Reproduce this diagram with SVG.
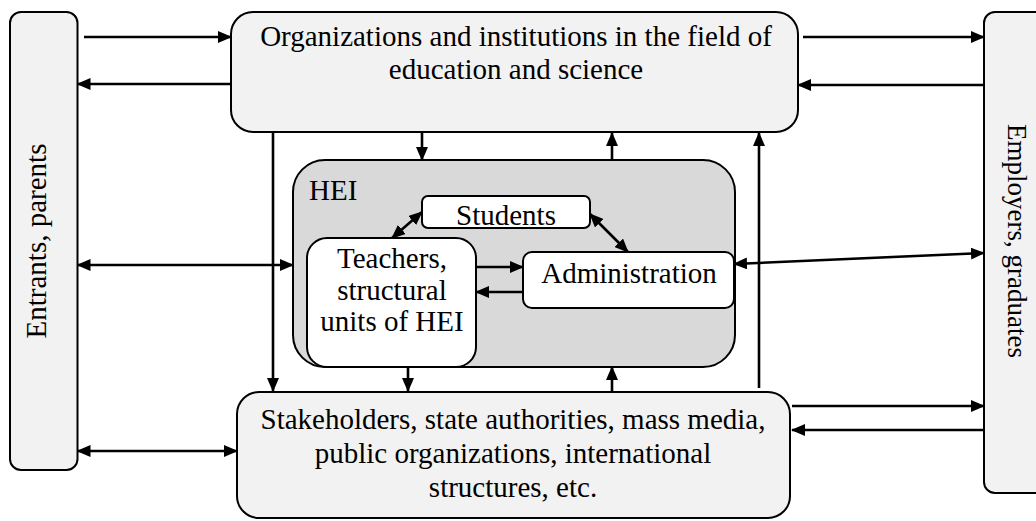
<svg xmlns="http://www.w3.org/2000/svg" width="1036" height="521" viewBox="0 0 1036 521">
<style>
.box{fill:#f2f2f2;stroke:#000;stroke-width:2}
.hei{fill:#d9d9d9;stroke:#000;stroke-width:2}
.inner{fill:#fff;stroke:#000;stroke-width:2}
.t{font-size:29px;fill:#000}
.c{text-anchor:middle}
.con line{stroke:#000;stroke-width:2.6;fill:none}
.e{marker-end:url(#ah)}
.s{marker-start:url(#ah)}
</style>
<defs>
<marker id="ah" viewBox="0 0 14 12" refX="13" refY="6" markerWidth="14" markerHeight="12" markerUnits="userSpaceOnUse" orient="auto-start-reverse">
<path d="M0,0 L14,6 L0,12 z" fill="#000"/>
</marker>
</defs>
<rect width="1036" height="521" fill="#fff"/>

<g font-family="'Liberation Serif', 'Times New Roman', 'DejaVu Serif', serif">
<g id="entrants">
<rect class="box" x="10" y="12" width="67.5" height="458" rx="11"/>
<text class="t c" transform="translate(46,241) rotate(-90)">Entrants, parents</text>
</g>

<g id="employers">
<rect class="box" x="984" y="12" width="80" height="481" rx="11"/>
<text class="t c" style="font-size:27px" transform="translate(1008,241) rotate(90)">Employers, graduates</text>
</g>

<g id="organizations">
<rect class="box" x="231" y="12" width="567" height="120" rx="22"/>
<text class="t c" x="516" y="46">Organizations and institutions in the field of</text>
<text class="t c" x="516" y="79">education and science</text>
</g>

<g id="stakeholders">
<rect class="box" x="237" y="392" width="553" height="126" rx="22"/>
<text class="t c" x="513" y="429">Stakeholders, state authorities, mass media,</text>
<text class="t c" x="513" y="463">public organizations, international</text>
<text class="t c" x="513" y="497">structures, etc.</text>
</g>

<g id="hei">
<rect class="hei" x="293" y="160" width="442" height="207" rx="32"/>
<text class="t" x="309" y="200">HEI</text>
</g>

<g id="students">
<rect class="inner" x="422" y="196" width="168" height="32" rx="6"/>
<text class="t c" x="506" y="225">Students</text>
</g>

<g id="teachers">
<rect class="inner" x="307" y="238" width="169" height="129" rx="20"/>
<text class="t c" x="392" y="268">Teachers,</text>
<text class="t c" x="392" y="300">structural</text>
<text class="t c" x="392" y="331">units of HEI</text>
</g>

<g id="administration">
<rect class="inner" x="523" y="252" width="211" height="56" rx="9"/>
<text class="t c" x="629" y="283">Administration</text>
</g>
</g>

<g id="connectors" class="con">
<line class="e" x1="84" y1="37" x2="231" y2="37"/>
<line class="e" x1="231" y1="84" x2="77.5" y2="84"/>
<line class="e" x1="803" y1="37" x2="984" y2="37"/>
<line class="e" x1="984" y1="85" x2="798" y2="85"/>
<line class="s e" x1="77.5" y1="265" x2="293" y2="265"/>
<line class="s e" x1="734" y1="264" x2="984" y2="253"/>
<line class="s e" x1="77.5" y1="451" x2="237" y2="451"/>
<line class="e" x1="792" y1="406" x2="984" y2="406"/>
<line class="e" x1="984" y1="430" x2="792" y2="430"/>
<line class="e" x1="273" y1="132" x2="273" y2="391"/>
<line class="e" x1="759" y1="388" x2="759" y2="133"/>
<line class="e" x1="422" y1="132" x2="422" y2="160"/>
<line class="e" x1="612" y1="160" x2="612" y2="133"/>
<line class="e" x1="408" y1="367" x2="408" y2="391"/>
<line class="e" x1="612" y1="391" x2="612" y2="367"/>
<line class="e" x1="476" y1="267" x2="523" y2="267"/>
<line class="e" x1="523" y1="292" x2="476" y2="292"/>
<line class="s e" x1="392" y1="238" x2="422" y2="212"/>
<line class="s e" x1="590" y1="214" x2="628" y2="252"/>
</g>
</svg>
